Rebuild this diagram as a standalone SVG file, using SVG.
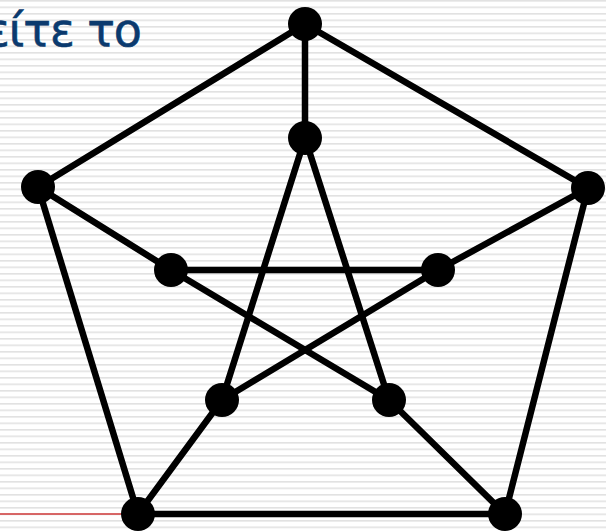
<svg xmlns="http://www.w3.org/2000/svg" width="606" height="531" viewBox="0 0 606 531">
<defs>
<pattern id="stripes" x="0" y="0" width="10" height="6.5" patternUnits="userSpaceOnUse">
<rect x="0" y="0" width="10" height="6.5" fill="#ffffff"/>
<rect x="0" y="0" width="10" height="1.6" fill="#e2e2e2"/>
</pattern>
<style>
.edge{stroke:#000;stroke-width:6.5;stroke-linecap:round;fill:none}
.node{fill:#000}
.title{font-family:"DejaVu Sans","Noto Sans",sans-serif;font-size:46px;fill:#0b3a6e;stroke:#0b3a6e;stroke-width:0.6}
</style>
</defs>
<rect width="606" height="531" fill="url(#stripes)"/>
<line x1="0" y1="514" x2="138" y2="514" stroke="#d03a3a" stroke-width="1.6"/>
<text class="title" x="-15" y="46" textLength="157" lengthAdjust="spacing">είτε το</text>
<g id="connectors">
<line class="edge" x1="305" y1="24" x2="38" y2="187"/>
<line class="edge" x1="305" y1="24" x2="588" y2="188"/>
<line class="edge" x1="305" y1="24" x2="305" y2="138"/>
<line class="edge" x1="38" y1="187" x2="138" y2="514"/>
<line class="edge" x1="38" y1="187" x2="171" y2="270"/>
<line class="edge" x1="588" y1="188" x2="505" y2="514"/>
<line class="edge" x1="588" y1="188" x2="438" y2="270"/>
<line class="edge" x1="138" y1="514" x2="505" y2="514"/>
<line class="edge" x1="138" y1="514" x2="222" y2="400"/>
<line class="edge" x1="505" y1="514" x2="389" y2="400"/>
<line class="edge" x1="305" y1="138" x2="222" y2="400"/>
<line class="edge" x1="305" y1="138" x2="389" y2="400"/>
<line class="edge" x1="171" y1="270" x2="438" y2="270"/>
<line class="edge" x1="171" y1="270" x2="389" y2="400"/>
<line class="edge" x1="438" y1="270" x2="222" y2="400"/>
</g>
<g id="n1"><circle class="node" cx="305" cy="24" r="17"/></g>
<g id="n2"><circle class="node" cx="38" cy="187" r="17"/></g>
<g id="n3"><circle class="node" cx="588" cy="188" r="17"/></g>
<g id="n4"><circle class="node" cx="138" cy="514" r="17"/></g>
<g id="n5"><circle class="node" cx="505" cy="514" r="17"/></g>
<g id="n6"><circle class="node" cx="305" cy="138" r="17"/></g>
<g id="n7"><circle class="node" cx="171" cy="270" r="17"/></g>
<g id="n8"><circle class="node" cx="438" cy="270" r="17"/></g>
<g id="n9"><circle class="node" cx="222" cy="400" r="17"/></g>
<g id="n10"><circle class="node" cx="389" cy="400" r="17"/></g>
</svg>
